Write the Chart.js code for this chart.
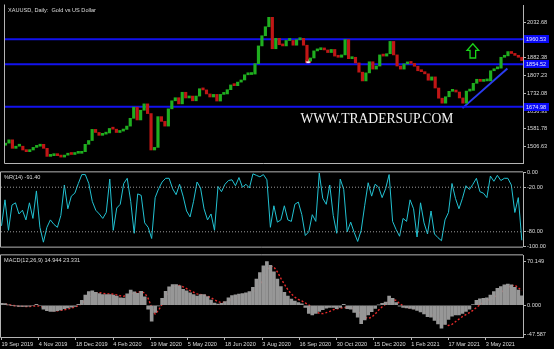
<!DOCTYPE html>
<html>
<head>
<meta charset="utf-8">
<script src="https://cdn.jsdelivr.net/npm/chart.js@4.4.1/dist/chart.umd.min.js"></script>
<style>
  html, body { margin: 0; padding: 0; background: #000; }
  #wrap { position: relative; width: 554px; height: 349px; background: #000; overflow: hidden; }
  canvas { position: absolute; left: 0; }
</style>
</head>
<body>
<div id="wrap">
  <canvas id="priceChart" width="554" height="168" style="top:0px"></canvas>
  <canvas id="wprChart" width="554" height="83" style="top:168px"></canvas>
  <canvas id="macdChart" width="554" height="98" style="top:251px"></canvas>
</div>
<script>
const symbolTitle = 'XAUUSD, Daily:  Gold vs US Dollar'
const wprTitle = '%R(14) -91.40'
const macdTitle = 'MACD(12,26,9) 14.944 23.331'
const watermark = 'WWW.TRADERSUP.COM'

// one sample every 3 daily bars, bar 0 = 19 Sep 2019
const barStep = 3
const labelEvery = 32
const dateLabels = ['19 Sep 2019', '4 Nov 2019', '18 Dec 2019', '4 Feb 2020', '19 Mar 2020', '5 May 2020',
  '18 Jun 2020', '3 Aug 2020', '16 Sep 2020', '30 Oct 2020', '15 Dec 2020', '1 Feb 2021', '17 Mar 2021', '3 May 2021']

const firstOpen = 1512
const closes = [
  1521,1535,1499,1508,1508,1492,1485,1492,1503,1508,1516,1499,1465,1468,1473,1468,1462,1470,1478,1473,
  1478,1478,1485,1516,1532,1579,1566,1554,1559,1564,1583,1580,1566,1572,1579,1593,1626,1673,1619,1660,
  1687,1646,1492,1503,1633,1613,1593,1666,1700,1713,1687,1736,
  1712,1720,1700,1720,1751,1746,1729,1716,1727,1699,1727,1729,1747,1767,1764,1779,1788,1810,1811,1813,
  1857,1932,1975,2013,2053,1920,1964,1937,1932,1955,1955,1935,1958,1964,1935,1868,1881,1911,1916,1917,
  1915,1904,1917,1889,1884,1894,1959,1878,1884,1860,
  1821,1784,1818,1865,1834,1847,1894,1889,1899,1951,1894,1847,1834,1856,1862,1858,1846,1827,1823,1814,
  1787,1801,1754,1711,1690,1717,1740,1740,1737,1712,1690,1741,1744,1774,1791,1782,1784,1784,1827,1835,
  1838,1884,1890,1908,1900,1892,1884,1870
]

const wpr = [
  -72,-37,-78,-44,-41,-56,-51,-64,-41,-62,-25,-74,-94,-74,-64,-70,-74,-58,-17,-49,
  -32,-28,-15,-3,-3,-15,-39,-51,-56,-62,-54,-9,-78,-48,-43,-15,-8,-39,-82,-29,
  -31,-68,-74,-89,-34,-22,-13,-8,-8,-22,-30,-16,
  -32,-52,-60,-39,-13,-21,-49,-64,-56,-78,-19,-26,-16,-11,-10,-18,-7,-20,-16,-21,
  -2,-4,-6,-3,-10,-74,-45,-67,-64,-45,-64,-66,-43,-40,-57,-85,-80,-57,-66,-1,
  -35,-43,-17,-58,-82,-9,-23,-80,-67,-81,
  -93,-78,-45,-14,-32,-16,-20,-34,-22,-3,-66,-77,-86,-62,-66,-37,-49,-87,-41,-68,
  -83,-52,-83,-88,-92,-64,-54,-15,-35,-49,-35,-18,-23,-16,-8,-26,-28,-34,-5,-12,
  -4,-11,-8,-8,-17,-54,-34,-91.4
]

const macdMain = [
  3.1,2.6,0.5,-0.5,-1.3,-1.8,-2.1,-1.8,-1.6,0,1.6,0,-6.2,-8.8,-9.9,-9.9,-8.8,-7.5,-5.7,-4.4,
  -3.1,-1.8,1.6,7.8,16.1,21.8,22.9,20.5,18.7,17.1,17.1,17.1,16.1,14.5,12,11.4,18.2,24.4,21.3,19.2,
  22.3,13.5,-6.2,-25.5,-11.4,-1,10.9,22.3,29.6,33.3,33.3,31.2,
  25.5,22.9,19.7,17.1,14.5,17.1,17.1,14,8.3,3.6,1.8,3.1,5.7,12,15.3,16.6,17.7,18.7,19.7,21.8,
  28.6,42.1,52.5,63.4,70.1,63.9,53.5,42,30,20.8,14.5,9.9,6.8,4.2,2.1,-3.6,-13,-15.6,-13,-9.9,
  -7.3,-4.7,-3.6,-3.6,-5.7,-3.6,1.6,-5.7,-6.2,-11.4,
  -19.2,-29.6,-23.4,-15.6,-10.4,-5.2,0.5,3.1,5.2,14.5,10.9,4.2,-1.6,-3.6,-4.2,-5.2,-6.2,-8.3,-10.9,-14,
  -18.2,-19.2,-24.4,-30.1,-36.9,-30.7,-22.9,-17.7,-15.6,-15.6,-13,-9.9,-6.2,1,7.8,10.4,10.9,12,16.1,21.8,
  27,30.1,32.7,33.8,32.7,28.6,24.4,14.9
]

const macdSignal = [
  2.6,1.6,1,0,-1,-1.6,-1.8,-2.1,-2.1,-1.6,-1,-1.6,-3.1,-5.2,-7.3,-8.8,-8.8,-8.3,-7.3,-6.2,
  -4.7,-3.1,-0.5,2.6,7.8,13,17.1,19.7,20.3,19.2,18.2,18.2,17.7,16.6,15.1,14.5,15.6,17.7,19.7,20.8,
  21.8,19.7,10.9,-3.6,-14,-7.8,1.6,14.5,22.3,28.6,30.7,31.7,
  29.6,26.5,23.4,20.8,18.2,17.1,16.1,14.5,12,8.8,5.7,4.2,4.7,6.2,8.8,11.4,14,16.1,18.2,19.7,
  21.8,25.5,32.7,43.1,54.6,62.9,61.3,53.5,43.1,33.8,24.9,18.2,13,9.4,6.8,3.6,0.5,-5.2,-9.9,-13,
  -13.5,-12,-9.9,-7.3,-5.7,-4.7,-3.6,-3.6,-4.2,-5.7,
  -8.8,-14,-19.2,-21.3,-19.2,-14,-7.8,-2.6,1.6,5.7,8.8,7.8,2.6,-1,-3.1,-4.2,-5.2,-6.2,-7.8,-9.9,
  -12.5,-15.1,-17.7,-21.3,-25.5,-29.6,-32.7,-30.7,-26.5,-22.3,-18.2,-15.1,-12,-8.3,-3.6,0.5,4.7,7.8,9.9,12.5,
  16.1,20.3,24.9,28.6,31.2,32.2,28,23.3
]

const priceTicks = [2032.68, 1957.53, 1882.38, 1807.23, 1732.08, 1656.93, 1581.78, 1506.63]
const levels = [1960.53, 1854.52, 1674.98]
const trendBars = [395.6, 434.5]
const trendPrices = [1669, 1837]
const arrowBar = 404.6, arrowTop = 1941, arrowBottom = 1881
const markBar = 262, markPrice = 1866

const wprTicks = [0, -20, -80, -100]
const wprLevels = [-20, -80]
const macdTicks = [70.149, 0, -47.587]

const xMin = -0.43, xMax = 448.02
const axisGray = '#b4b4b4'
const textGray = '#dcdcdc'
const fontFamily = '"Liberation Sans", Arial, sans-serif'
const tinyFont = { family: fontFamily, size: 5.6 }

const bars = closes.map((c, k) => k * barStep)

function rightAxis(min, max, ticks, digits) {
  return {
    position: 'right', min: min, max: max,
    afterBuildTicks: s => { s.ticks = ticks.map(v => ({ value: v })) },
    afterFit: s => { s.width = 31 },
    ticks: { callback: v => Number(v).toFixed(digits), color: textGray, font: tinyFont, padding: 1, autoSkip: false },
    grid: { drawOnChartArea: false, tickLength: 3, color: axisGray },
    border: { color: axisGray }
  }
}
function hiddenX() {
  return { type: 'linear', min: xMin, max: xMax, offset: false, display: false }
}
function flatLine(v, color, width, dash) {
  return {
    type: 'line', data: [{ x: xMin, y: v }, { x: xMax, y: v }],
    borderColor: color, borderWidth: width, borderDash: dash, pointRadius: 0
  }
}

// frame + pane caption
const paneDecor = {
  id: 'paneDecor',
  afterDraw(chart, args, opts) {
    const { ctx, chartArea: a } = chart
    ctx.save()
    ctx.strokeStyle = axisGray
    ctx.lineWidth = 1
    ctx.beginPath()
    if (opts.top) { ctx.moveTo(a.left - 0.5, a.top - 0.5); ctx.lineTo(a.right, a.top - 0.5) }
    ctx.moveTo(a.left - 0.5, a.top - 0.5); ctx.lineTo(a.left - 0.5, a.bottom + 0.5)
    ctx.moveTo(a.left - 0.5, a.bottom + 0.5); ctx.lineTo(a.right, a.bottom + 0.5)
    ctx.stroke()
    ctx.fillStyle = textGray
    ctx.font = '5.6px ' + fontFamily
    ctx.textBaseline = 'middle'
    ctx.fillText(opts.label, a.left + 3, a.top + 5)
    ctx.restore()
  }
}

const priceMarks = {
  id: 'priceMarks',
  afterDraw(chart) {
    const { ctx, chartArea: a, scales } = chart
    const x = scales.x, y = scales.y
    ctx.save()
    ctx.font = '5.6px ' + fontFamily
    ctx.textBaseline = 'middle'
    levels.forEach(v => {
      const py = Math.round(y.getPixelForValue(v))
      ctx.fillStyle = '#0a0af5'
      ctx.fillRect(a.right + 1, py - 4, 25, 8)
      ctx.fillStyle = '#e8e8ff'
      ctx.fillText(v.toFixed(2), a.right + 3, py)
    })
    ctx.font = '13.6px "Liberation Serif", "Times New Roman", serif'
    ctx.fillStyle = '#f2f2f2'
    ctx.textBaseline = 'alphabetic'
    ctx.fillText(watermark, 300.5, 123)

    const cx = x.getPixelForValue(arrowBar)
    const t = y.getPixelForValue(arrowTop), b = y.getPixelForValue(arrowBottom)
    const hw = 5.8, sw = 2.8, head = 6.5
    ctx.strokeStyle = '#19d419'
    ctx.lineWidth = 1.3
    ctx.beginPath()
    ctx.moveTo(cx, t)
    ctx.lineTo(cx + hw, t + head); ctx.lineTo(cx + sw, t + head); ctx.lineTo(cx + sw, b)
    ctx.lineTo(cx - sw, b); ctx.lineTo(cx - sw, t + head); ctx.lineTo(cx - hw, t + head)
    ctx.closePath()
    ctx.stroke()
    ctx.restore()
  }
}

const common = {
  responsive: false,
  animation: false,
  events: [],
  plugins: { legend: { display: false }, tooltip: { enabled: false } }
}

new Chart(document.getElementById('priceChart'), {
  type: 'bar',
  data: {
    datasets: [
      {
        data: closes.map((c, k) => ({ x: bars[k], y: [k ? closes[k - 1] : firstOpen, c] })),
        backgroundColor: ctx => (ctx.raw.y[1] >= ctx.raw.y[0] ? '#1fae1f' : '#c01616'),
        barThickness: 2.5, minBarLength: 2, grouped: false
      },
      ...levels.map(v => flatLine(v, '#1212ee', 2, [])),
      {
        type: 'line', data: trendBars.map((b, i) => ({ x: b, y: trendPrices[i] })),
        borderColor: '#2a3cf0', borderWidth: 2, pointRadius: 0
      },
      {
        type: 'line', data: [{ x: markBar, y: markPrice }], showLine: false,
        pointRadius: 2.5, pointBackgroundColor: '#f4f4f4', pointBorderColor: '#e02020', pointBorderWidth: 1
      }
    ]
  },
  options: {
    ...common,
    layout: { padding: { left: 1, top: 1, right: 0, bottom: 1 } },
    plugins: { ...common.plugins, paneDecor: { label: symbolTitle, top: false } },
    scales: { x: hiddenX(), y: rightAxis(1437, 2105, priceTicks, 2) }
  },
  plugins: [paneDecor, priceMarks]
})

new Chart(document.getElementById('wprChart'), {
  type: 'line',
  data: {
    datasets: [
      ...wprLevels.map(v => flatLine(v, '#9a9a9a', 1, [1, 2])),
      {
        data: wpr.map((v, k) => ({ x: bars[k], y: v })),
        borderColor: '#22c2d2', borderWidth: 1, pointRadius: 0, tension: 0
      }
    ]
  },
  options: {
    ...common,
    layout: { padding: { left: 1, top: 1, right: 0, bottom: 1 } },
    plugins: { ...common.plugins, paneDecor: { label: wprTitle, top: true } },
    scales: { x: hiddenX(), y: rightAxis(-100, 0, wprTicks, 2) }
  },
  plugins: [paneDecor]
})

new Chart(document.getElementById('macdChart'), {
  type: 'bar',
  data: {
    datasets: [
      {
        data: macdMain.map((v, k) => ({ x: bars[k], y: v })),
        backgroundColor: '#979797', barThickness: 3, grouped: false
      },
      {
        type: 'line', data: macdSignal.map((v, k) => ({ x: bars[k], y: v })),
        borderColor: '#e82a2a', borderWidth: 1.4, borderDash: [2, 2], pointRadius: 0
      }
    ]
  },
  options: {
    ...common,
    layout: { padding: { left: 1, top: 1, right: 0, bottom: 0 } },
    plugins: { ...common.plugins, paneDecor: { label: macdTitle, top: true } },
    scales: {
      x: {
        type: 'linear', min: xMin, max: xMax, offset: false,
        afterBuildTicks: s => { s.ticks = dateLabels.map((d, i) => ({ value: i * labelEvery })) },
        afterFit: s => { s.height = 12 },
        ticks: {
          callback: v => dateLabels[Math.round(v / labelEvery)],
          align: 'start', autoSkip: false, maxRotation: 0, color: textGray, font: tinyFont, padding: 1
        },
        grid: { drawOnChartArea: false, offset: false, tickLength: 3, color: axisGray },
        border: { display: false }
      },
      y: rightAxis(-51, 80, macdTicks, 3)
    }
  },
  plugins: [paneDecor]
})
</script>
</body>
</html>
